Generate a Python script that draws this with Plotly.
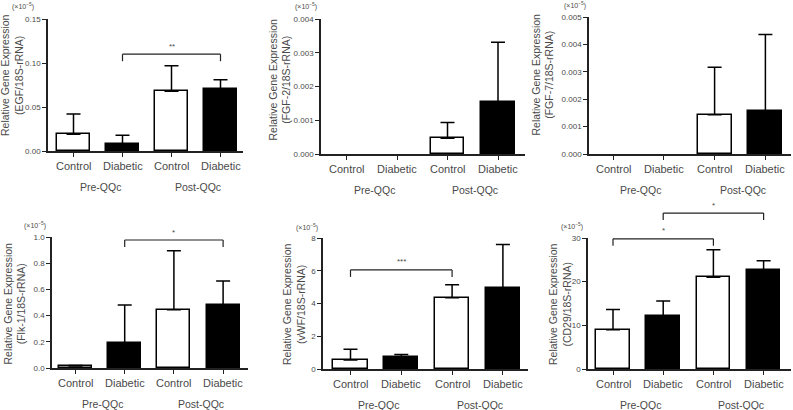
import plotly.graph_objects as go

# ---------------- data ----------------
categories = ["Control", "Diabetic", "Control", "Diabetic"]
groups = ["Pre-QQc", "Post-QQc"]
genes = ["EGF", "FGF-2", "FGF-7", "Flk-1", "vWF", "CD29"]

egf_mean = [0.019, 0.008, 0.068, 0.070]
egf_sd = [0.023, 0.010, 0.029, 0.011]
fgf2_mean = [0.0, 0.0, 0.00047, 0.00153]
fgf2_sd = [0.0, 0.0, 0.00046, 0.00178]
fgf7_mean = [0.0, 0.0, 0.00143, 0.00158]
fgf7_sd = [0.0, 0.0, 0.00174, 0.00278]
flk1_mean = [0.015, 0.19, 0.445, 0.48]
flk1_sd = [0.005, 0.29, 0.45, 0.185]
vwf_mean = [0.55, 0.72, 4.35, 4.95]
vwf_sd = [0.65, 0.16, 0.80, 2.65]
cd29_mean = [9.0, 12.2, 21.0, 22.6]
cd29_sd = [4.6, 3.4, 6.3, 2.2]

egf_ticks = [0.0, 0.05, 0.10, 0.15]
egf_ticklabels = ["0.00", "0.05", "0.10", "0.15"]
fgf2_ticks = [0.0, 0.001, 0.002, 0.003, 0.004]
fgf2_ticklabels = ["0.000", "0.001", "0.002", "0.003", "0.004"]
fgf7_ticks = [0.0, 0.001, 0.002, 0.003, 0.004, 0.005]
fgf7_ticklabels = ["0.000", "0.001", "0.002", "0.003", "0.004", "0.005"]
flk1_ticks = [0.0, 0.2, 0.4, 0.6, 0.8, 1.0]
flk1_ticklabels = ["0.0", "0.2", "0.4", "0.6", "0.8", "1.0"]
vwf_ticks = [0, 2, 4, 6, 8]
vwf_ticklabels = ["0", "2", "4", "6", "8"]
cd29_ticks = [0, 10, 20, 30]
cd29_ticklabels = ["0", "10", "20", "30"]

# significance brackets: (from bar, to bar, height in data units, label)
egf_sig = [(1, 3, 0.110, "**")]
fgf2_sig = []
fgf7_sig = []
flk1_sig = [(1, 3, 0.977, "*")]
vwf_sig = [(0, 2, 6.05, "***")]
cd29_sig = [(0, 2, 29.8, "*"), (1, 3, 35.7, "*")]

# ---------------- layout / styling ----------------
W, H = 793, 410
TXT = "#4a4a4a"
AX = "#222222"
NARROW = "Liberation Sans Narrow, Arial Narrow, Liberation Sans, Arial"
SANS = "Liberation Sans, Arial, sans-serif"

panels = [
    dict(mean=egf_mean, sd=egf_sd, ticks=egf_ticks, tl=egf_ticklabels, sig=egf_sig,
         x0=48, x1=243, ytop=19, ybot=151, c0=73.5, s=49.0,
         tx=12, tcy=75, ux=23, uy=6),
    dict(mean=fgf2_mean, sd=fgf2_sd, ticks=fgf2_ticks, tl=fgf2_ticklabels, sig=fgf2_sig,
         x0=321, x1=525, ytop=19, ybot=154, c0=346.5, s=50.5,
         tx=279.5, tcy=80, ux=306, uy=6),
    dict(mean=fgf7_mean, sd=fgf7_sd, ticks=fgf7_ticks, tl=fgf7_ticklabels, sig=fgf7_sig,
         x0=589, x1=791, ytop=17, ybot=154, c0=613, s=50.8,
         tx=542.5, tcy=75, ux=575, uy=5),
    dict(mean=flk1_mean, sd=flk1_sd, ticks=flk1_ticks, tl=flk1_ticklabels, sig=flk1_sig,
         x0=52, x1=248, ytop=237, ybot=368, c0=75.5, s=49.2,
         tx=14.5, tcy=304, ux=35, uy=225),
    dict(mean=vwf_mean, sd=vwf_sd, ticks=vwf_ticks, tl=vwf_ticklabels, sig=vwf_sig,
         x0=323, x1=528, ytop=238, ybot=369, c0=350.5, s=50.8,
         tx=294, tcy=304, ux=307, uy=227),
    dict(mean=cd29_mean, sd=cd29_sd, ticks=cd29_ticks, tl=cd29_ticklabels, sig=cd29_sig,
         x0=588, x1=791, ytop=238, ybot=369, c0=613, s=50.2,
         tx=560, tcy=304, ux=572, uy=226),
]

bar_fill = ["white", "black", "white", "black"]

fig = go.Figure()
shapes = []
annotations = []

for k, p in enumerate(panels):
    n = "" if k == 0 else str(k + 1)
    xa, ya = "x" + n, "y" + n
    r0 = -(p["c0"] - p["x0"]) / p["s"]
    r1 = (p["x1"] - p["c0"]) / p["s"]
    top = p["ticks"][-1]

    idx = [i for i, v in enumerate(p["mean"]) if v > 0]
    fig.add_trace(go.Bar(
        x=idx, y=[p["mean"][i] for i in idx],
        width=0.67,
        marker=dict(color=[bar_fill[i] for i in idx], line=dict(color="black", width=1.5)),
        error_y=dict(type="data", symmetric=False,
                     array=[p["sd"][i] for i in idx],
                     arrayminus=[0 for _ in idx],
                     color="black", thickness=1.5, width=7),
        xaxis=xa, yaxis=ya, showlegend=False, hoverinfo="skip",
    ))

    fig.layout["xaxis" + n] = dict(
        domain=[p["x0"] / W, p["x1"] / W], range=[r0, r1], anchor=ya, automargin=False,
        showline=True, linecolor=AX, linewidth=1.5, showgrid=False, zeroline=False,
        tickvals=[0, 1, 2, 3], ticks="outside", ticklen=4, tickwidth=1.2, tickcolor=AX,
        showticklabels=False, fixedrange=True,
    )
    fig.layout["yaxis" + n] = dict(
        domain=[1 - p["ybot"] / H, 1 - p["ytop"] / H], range=[0, top], anchor=xa,
        automargin=False,
        showline=True, linecolor=AX, linewidth=1.5, showgrid=False, zeroline=False,
        tickvals=p["ticks"], ticktext=p["tl"], ticks="outside", ticklen=4, tickwidth=1.2,
        tickcolor=AX, tickfont=dict(family=NARROW, size=8, color=TXT), fixedrange=True,
    )

    # category labels
    for i, c in enumerate(categories):
        annotations.append(dict(x=i, y=0, xref=xa, yref=ya + " domain", yshift=-15,
                                text=c, showarrow=False, yanchor="middle",
                                font=dict(family=NARROW, size=11, color=TXT)))
    # group underlines and labels
    for (ga, gb, gc), g in zip([(-0.45, 1.5, 0.55), (1.62, 3.46, 2.55)], groups):
        shapes.append(dict(type="line", xref=xa, yref=ya, x0=ga, x1=gb,
                           ysizemode="pixel", yanchor=0, y0=-25, y1=-25,
                           line=dict(color="#bbbbbb", width=1)))
        annotations.append(dict(x=gc, y=0, xref=xa, yref=ya + " domain", yshift=-36,
                                text=g, showarrow=False, yanchor="middle",
                                font=dict(family=SANS, size=10.5, color=TXT)))
    # y title (two lines)
    annotations.append(dict(x=p["tx"] / W, y=1 - p["tcy"] / H, xref="paper", yref="paper",
                            text="Relative Gene Expression<br>(" + genes[k] + "/18S-rRNA)",
                            textangle=-90, showarrow=False, align="center",
                            xanchor="center", yanchor="middle",
                            font=dict(family=NARROW, size=10.5, color=TXT)))
    annotations.append(dict(x=p["ux"] / W, y=1 - p["uy"] / H, xref="paper", yref="paper",
                            text="(×10<sup>−5</sup>)", showarrow=False,
                            xanchor="center", yanchor="middle",
                            font=dict(family=SANS, size=7, color=TXT)))

    # significance brackets
    for (a, b, yv, lab) in p["sig"]:
        fa = (a - r0) / (r1 - r0)
        fb = (b - r0) / (r1 - r0)
        fy = yv / top
        shapes.append(dict(type="line", xref=xa + " domain", yref=ya + " domain",
                           x0=fa, x1=fb, y0=fy, y1=fy, line=dict(color=AX, width=1.2)))
        for fx in (fa, fb):
            shapes.append(dict(type="line", xref=xa + " domain", yref=ya + " domain",
                               x0=fx, x1=fx, ysizemode="pixel", yanchor=fy, y0=-7, y1=0,
                               line=dict(color=AX, width=1.2)))
        annotations.append(dict(x=(fa + fb) / 2, y=fy, xref=xa + " domain", yref=ya + " domain",
                                yshift=8, text=lab, showarrow=False, yanchor="middle",
                                font=dict(family=SANS, size=8, color=TXT)))

fig.update_layout(
    template="none",
    width=W, height=H, margin=dict(l=0, r=0, t=0, b=0, autoexpand=False),
    paper_bgcolor="white", plot_bgcolor="white",
    shapes=shapes, annotations=annotations, bargap=0,
)

fig.write_html(
    "out.html",
    config={"displayModeBar": False},
    post_script="document.body.style.margin='0';document.body.style.overflow='hidden';",
)
